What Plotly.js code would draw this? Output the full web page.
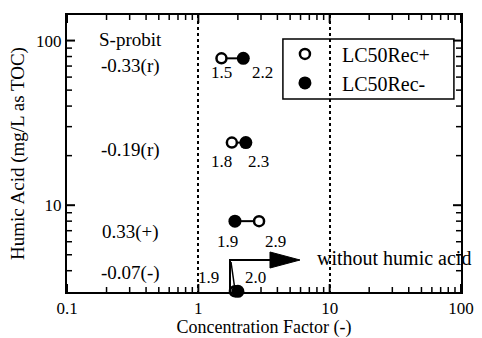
<!DOCTYPE html>
<html>
<head>
<meta charset="utf-8">
<script src="https://cdn.plot.ly/plotly-3.0.1.min.js"></script>
<style>html,body{margin:0;padding:0;background:#fff}#chart{width:482px;height:338px}</style>
</head>
<body>
<div id="chart"></div>
<script>
// ---- data ----
const humicAcid = [78, 24, 8, 3.0];           // mg/L as TOC (last row: without humic acid, drawn on axis floor)
const lc50RecPlus = [1.5, 1.8, 2.9, 1.9];     // open circles
const lc50RecMinus = [2.2, 2.3, 1.9, 2.0];    // filled circles
const sProbit = ['-0.33(r)', '-0.19(r)', '0.33(+)', '-0.07(-)'];
const xTickVals = [0.1, 1, 10, 100];
const xTickText = ['0.1', '1', '10', '100'];
const yTickVals = [10, 100];
const yTickText = ['10', '100'];
const xMinor = [0.2,0.3,0.4,0.5,0.6,0.7,0.8,0.9,2,3,4,5,6,7,8,9,20,30,40,50,60,70,80,90];
const yMinor = [4,5,6,7,8,9,20,30,40,50,60,70,80,90];

// ---- layout helpers (positions / styles only) ----
const FONT = 'Liberation Serif';
const W = 482, H = 338, M = {l: 67, r: 21, t: 15, b: 46};
const plusShift = [[0,-14],[-10,-19],[16,-20],[-26,14]];
const minusShift = [[19,-14],[13,-19],[-7,-20],[18,14]];
const sProbitY = [0.816, 0.513, 0.217, 0.069];
const xRange = [-1, 2];
const yRange = [Math.log10(2.97), Math.log10(143)];
const MAJ = 8, MIN = 5;

// tick marks as line traces through the axes' own log scales (inside ticks, mirrored)
const pxPerDecX = (W - M.l - M.r) / (xRange[1] - xRange[0]);
const pxPerDecY = (H - M.t - M.b) / (yRange[1] - yRange[0]);
const xMin = Math.pow(10, xRange[0]), xMax = Math.pow(10, xRange[1]);
const yMin = Math.pow(10, yRange[0]), yMax = Math.pow(10, yRange[1]);
function tickTrace(xv, yv, len, width) {
  const fy = Math.pow(10, len / pxPerDecY), fx = Math.pow(10, len / pxPerDecX);
  const X = [], Y = [];
  xv.forEach(v => { X.push(v, v, null, v, v, null); Y.push(yMin, yMin * fy, null, yMax, yMax / fy, null); });
  yv.forEach(v => { X.push(xMin, xMin * fx, null, xMax, xMax / fx, null); Y.push(v, v, null, v, v, null); });
  return {x: X, y: Y, mode: 'lines', line: {color: 'black', width: width}, showlegend: false,
    hoverinfo: 'skip', cliponaxis: false, connectgaps: false};
}

const traces = [tickTrace(xTickVals, yTickVals, MAJ, 2), tickTrace(xMinor, yMinor, MIN, 1.5)];
for (let i = 0; i < humicAcid.length; i++) {
  traces.push({
    x: [lc50RecPlus[i], lc50RecMinus[i]], y: [humicAcid[i], humicAcid[i]],
    mode: 'lines', line: {color: 'black', width: 2}, showlegend: false,
    hoverinfo: 'skip', cliponaxis: false
  });
}
traces.push({
  x: lc50RecPlus, y: humicAcid, mode: 'markers', name: 'LC50Rec+',
  legendgroup: 'a', cliponaxis: false,
  marker: {symbol: 'circle', size: 10, color: 'white', line: {color: 'black', width: 2.5}}
});
traces.push({
  x: lc50RecMinus, y: humicAcid, mode: 'markers', name: 'LC50Rec-',
  legendgroup: 'b', cliponaxis: false,
  marker: {symbol: 'circle', size: 13, color: 'black', line: {color: 'black', width: 0}}
});

const annotations = [];
for (let i = 0; i < humicAcid.length; i++) {
  annotations.push({x: Math.log10(lc50RecPlus[i]), y: Math.log10(humicAcid[i]), xref: 'x', yref: 'y',
    text: lc50RecPlus[i].toFixed(1), showarrow: false, xshift: plusShift[i][0], yshift: plusShift[i][1],
    xanchor: 'center', yanchor: 'middle', font: {family: FONT, size: 17, color: 'black'}});
  annotations.push({x: Math.log10(lc50RecMinus[i]), y: Math.log10(humicAcid[i]), xref: 'x', yref: 'y',
    text: lc50RecMinus[i].toFixed(1), showarrow: false, xshift: minusShift[i][0], yshift: minusShift[i][1],
    xanchor: 'center', yanchor: 'middle', font: {family: FONT, size: 17, color: 'black'}});
  annotations.push({x: 0.162, y: sProbitY[i], xref: 'paper', yref: 'paper', text: sProbit[i],
    xanchor: 'center', yanchor: 'middle', showarrow: false, font: {family: FONT, size: 19, color: 'black'}});
}
annotations.push({x: 0.162, y: 0.91, xref: 'paper', yref: 'paper', text: 'S-probit',
  xanchor: 'center', yanchor: 'middle', showarrow: false, font: {family: FONT, size: 19, color: 'black'}});
annotations.push({x: 0.629, y: 0.123, xref: 'paper', yref: 'paper', xanchor: 'left', yanchor: 'middle',
  text: 'without humic acid', showarrow: false, font: {family: FONT, size: 20, color: 'black'}});

const shapes = [
  {type: 'rect', xref: 'paper', yref: 'paper', x0: 0.548, x1: 0.982, y0: 0.697, y1: 0.913,
    line: {color: 'black', width: 1.5}, fillcolor: 'rgba(0,0,0,0)'},
  {type: 'path', xref: 'paper', yref: 'paper', path: 'M0.4137,0.0072 L0.4137,0.1155 L0.5152,0.1155',
    line: {color: 'black', width: 2}},
  {type: 'path', xref: 'paper', yref: 'paper', path: 'M0.4162,0.1083 L0.4264,0.0072',
    line: {color: 'black', width: 1.5}},
  {type: 'path', xref: 'paper', yref: 'paper', path: 'M0.5152,0.1444 L0.5152,0.0866 L0.5914,0.1155 Z',
    line: {color: 'black', width: 1}, fillcolor: 'black'}
];

function axis(extra) {
  return Object.assign({
    type: 'log', showline: true, linecolor: 'black', linewidth: 2, mirror: true,
    ticks: '', tickmode: 'array',
    tickfont: {family: FONT, size: 17, color: 'black'}, zeroline: false, showgrid: false
  }, extra);
}

const layout = {
  width: W, height: H,
  margin: M,
  font: {family: FONT, size: 18, color: 'black'},
  showlegend: true,
  legend: {x: 0.51, y: 0.93, xanchor: 'left', yanchor: 'top', bgcolor: 'rgba(0,0,0,0)',
    borderwidth: 0, itemwidth: 64, tracegroupgap: 0, traceorder: 'grouped',
    font: {family: FONT, size: 20, color: 'black'}},
  xaxis: axis({
    range: xRange, tickvals: xTickVals, ticktext: xTickText, ticklabelstandoff: 0,
    showgrid: true, gridcolor: 'black', gridwidth: 1.5, griddash: 'dot',
    title: {text: 'Concentration Factor (-)', font: {family: FONT, size: 18, color: 'black'}, standoff: 4}
  }),
  yaxis: axis({
    range: yRange, tickvals: yTickVals, ticktext: yTickText,
    title: {text: 'Humic Acid (mg/L as TOC)', font: {family: FONT, size: 19, color: 'black'}, standoff: 6}
  }),
  annotations: annotations,
  shapes: shapes
};

Plotly.newPlot('chart', traces, layout, {displayModeBar: false});
</script>
</body>
</html>
